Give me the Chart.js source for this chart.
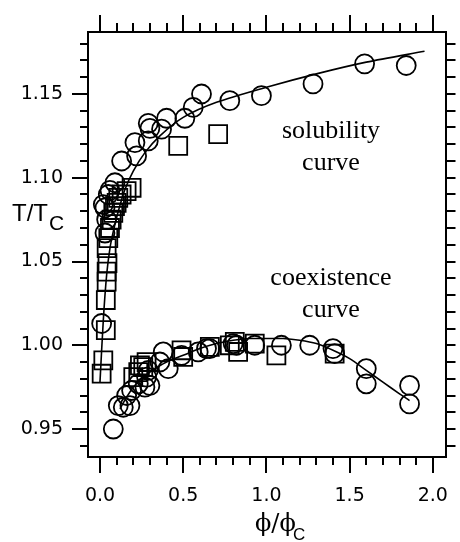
<!DOCTYPE html>
<html>
<head>
<meta charset="utf-8">
<script src="https://cdn.jsdelivr.net/npm/chart.js@4.4.1/dist/chart.umd.min.js"></script>
<style>
  html, body { margin: 0; padding: 0; background: #fff; }
</style>
</head>
<body>
<canvas id="phaseChart" width="460" height="542"></canvas>
<script>
// solubility branch (upper)
const solCircleX = [0.01, 0.03, 0.04, 0.03, 0.02, 0.05, 0.06, 0.09, 0.13, 0.22, 0.21, 0.29, 0.29, 0.30, 0.37, 0.40, 0.51, 0.56, 0.61, 0.78, 0.97, 1.28, 1.59, 1.84];
const solCircleY = [1.013, 1.067, 1.075, 1.082, 1.084, 1.090, 1.0925, 1.097, 1.110, 1.113, 1.121, 1.122, 1.1325, 1.1295, 1.129, 1.1355, 1.1355, 1.142, 1.150, 1.146, 1.149, 1.156, 1.168, 1.167];
const solSquareX = [0.01, 0.02, 0.035, 0.035, 0.04, 0.04, 0.045, 0.04, 0.05, 0.06, 0.07, 0.08, 0.09, 0.10, 0.11, 0.13, 0.16, 0.19, 0.47, 0.71];
const solSquareY = [0.983, 0.991, 1.009, 1.027, 1.038, 1.044, 1.049, 1.058, 1.064, 1.070, 1.075, 1.079, 1.083, 1.085, 1.088, 1.090, 1.092, 1.094, 1.119, 1.126];
const solFitX = [0.00, 0.02, 0.04, 0.06, 0.08, 0.11, 0.15, 0.20, 0.27, 0.36, 0.50, 0.70, 1.00, 1.30, 1.60, 1.95];
const solFitY = [0.978, 1.015, 1.042, 1.058, 1.068, 1.080, 1.093, 1.104, 1.115, 1.125, 1.136, 1.145, 1.154, 1.162, 1.169, 1.1755];

// coexistence branch (lower)
const coexCircleX = [0.08, 0.11, 0.14, 0.18, 0.16, 0.19, 0.23, 0.27, 0.30, 0.28, 0.29, 0.36, 0.38, 0.41, 0.49, 0.59, 0.64, 0.66, 0.80, 0.82, 0.93, 1.09, 1.26, 1.40, 1.41, 1.60, 1.60, 1.86, 1.86];
const coexCircleY = [0.950, 0.964, 0.963, 0.964, 0.970, 0.973, 0.977, 0.975, 0.976, 0.981, 0.985, 0.990, 0.996, 0.986, 0.994, 0.996, 0.998, 0.998, 1.001, 1.000, 1.000, 1.000, 1.000, 0.998, 0.995, 0.986, 0.977, 0.976, 0.965];
const coexSquareX = [0.20, 0.23, 0.24, 0.26, 0.28, 0.49, 0.50, 0.66, 0.78, 0.81, 0.83, 0.93, 1.06, 1.41];
const coexSquareY = [0.981, 0.984, 0.988, 0.987, 0.990, 0.997, 0.993, 0.999, 1.000, 1.002, 0.996, 1.001, 0.994, 0.995];
const coexFitX = [0.12, 0.16, 0.20, 0.25, 0.30, 0.40, 0.50, 0.60, 0.70, 0.80, 0.90, 1.00, 1.10, 1.20, 1.30, 1.40, 1.50, 1.60, 1.70, 1.80, 1.86];
const coexFitY = [0.962, 0.969, 0.975, 0.980, 0.984, 0.990, 0.994, 0.998, 1.001, 1.003, 1.004, 1.004, 1.004, 1.003, 1.001, 0.997, 0.992, 0.985, 0.978, 0.971, 0.967];

// axes
const xTickLabels = [0.0, 0.5, 1.0, 1.5, 2.0];
const yTickLabels = [0.95, 1.00, 1.05, 1.10, 1.15];
const X_MIN = -0.072, X_MAX = 2.076;
const Y_MIN = 0.9333, Y_MAX = 1.187;

const toPoints = (xs, ys) => xs.map((x, i) => ({ x: x, y: ys[i] }));

const tickFont = { family: 'DejaVu Sans', size: 19 };

// fixed axis boxes, no extra label padding
const fixBox = (w, h) => s => {
  if (w !== null) s.width = w;
  if (h !== null) s.height = h;
  s.paddingLeft = s.paddingRight = s.paddingTop = s.paddingBottom = 0;
};

// tick marks: major/minor, outward on all four sides
const tickMarks = {
  id: 'tickMarks',
  afterDraw(chart) {
    const { ctx, chartArea: a, scales: { x, y } } = chart;
    ctx.save();
    ctx.strokeStyle = '#000';
    ctx.lineWidth = 2;
    ctx.beginPath();
    for (let i = 0; i <= 20; i++) {
      const px = Math.round(x.getPixelForValue(i / 10));
      const major = i % 5 === 0;
      ctx.moveTo(px, a.bottom);
      ctx.lineTo(px, a.bottom + (major ? 16 : 8));
      ctx.moveTo(px, a.top);
      ctx.lineTo(px, a.top - (major ? 17 : 9));
    }
    for (let i = 94; i <= 118; i++) {
      const py = Math.round(y.getPixelForValue(i / 100));
      const major = i % 5 === 0;
      ctx.moveTo(a.left, py);
      ctx.lineTo(a.left - (major ? 16 : 8), py);
      ctx.moveTo(a.right, py);
      ctx.lineTo(a.right + 10, py);
    }
    ctx.stroke();
    ctx.restore();
  }
};

// axis titles and curve notes
const notes = [
  { text: 'solubility', x: 1.388, y: 1.1236 },
  { text: 'curve', x: 1.388, y: 1.1045 },
  { text: 'coexistence', x: 1.388, y: 1.0358 },
  { text: 'curve', x: 1.388, y: 1.0167 }
];
const labelText = {
  id: 'labelText',
  afterDraw(chart) {
    const { ctx, scales: { x, y } } = chart;
    ctx.save();
    ctx.fillStyle = '#000';
    ctx.textBaseline = 'alphabetic';
    ctx.textAlign = 'center';
    ctx.font = '26px "Liberation Serif"';
    notes.forEach(n => ctx.fillText(n.text, x.getPixelForValue(n.x), y.getPixelForValue(n.y)));

    ctx.textAlign = 'left';
    // y title T/Tc
    ctx.font = '24px "Liberation Sans"';
    ctx.fillText('T/T', 12, 221);
    ctx.font = '21px "Liberation Sans"';
    ctx.fillText('C', 49, 230);
    // x title phi/phi_c
    ctx.font = '24px "DejaVu Serif"';
    ctx.fillText('\u03D5/\u03D5', 255, 531);
    ctx.font = '17px "Liberation Sans"';
    ctx.fillText('C', 293, 540);
    ctx.restore();
  }
};

const markerStyle = { borderColor: '#000', backgroundColor: 'rgba(0,0,0,0)', pointBorderWidth: 1.8, showLine: false };
const fitStyle = { borderColor: '#000', borderWidth: 1.6, pointRadius: 0, showLine: true, fill: false, tension: 0.3 };

const ctx = document.getElementById('phaseChart').getContext('2d');
new Chart(ctx, {
  type: 'scatter',
  data: {
    datasets: [
      Object.assign({ label: 'solubility fit', data: toPoints(solFitX, solFitY) }, fitStyle),
      Object.assign({ label: 'coexistence fit', data: toPoints(coexFitX, coexFitY) }, fitStyle),
      Object.assign({ label: 'solubility circles', data: toPoints(solCircleX, solCircleY), pointStyle: 'circle', pointRadius: 9.5 }, markerStyle),
      Object.assign({ label: 'solubility squares', data: toPoints(solSquareX, solSquareY), pointStyle: 'rect', pointRadius: 12.7 }, markerStyle),
      Object.assign({ label: 'coexistence circles', data: toPoints(coexCircleX, coexCircleY), pointStyle: 'circle', pointRadius: 9.5 }, markerStyle),
      Object.assign({ label: 'coexistence squares', data: toPoints(coexSquareX, coexSquareY), pointStyle: 'rect', pointRadius: 12.7 }, markerStyle)
    ]
  },
  options: {
    responsive: false,
    animation: false,
    devicePixelRatio: 1,
    layout: { padding: 0 },
    plugins: { legend: { display: false }, tooltip: { enabled: false } },
    scales: {
      x: {
        type: 'linear', position: 'bottom', min: X_MIN, max: X_MAX,
        afterBuildTicks: s => { s.ticks = xTickLabels.map(v => ({ value: v })); },
        ticks: { font: tickFont, color: '#000', padding: 28, maxRotation: 0, autoSkip: false, callback: v => v.toFixed(1) },
        grid: { display: false, drawTicks: false },
        border: { display: true, color: '#000', width: 2 },
        afterFit: fixBox(null, 85)
      },
      x2: {
        type: 'linear', position: 'top', min: X_MIN, max: X_MAX,
        ticks: { display: false },
        grid: { display: false, drawTicks: false },
        border: { display: true, color: '#000', width: 2 },
        afterFit: fixBox(null, 32)
      },
      y: {
        type: 'linear', position: 'left', min: Y_MIN, max: Y_MAX,
        afterBuildTicks: s => { s.ticks = yTickLabels.map(v => ({ value: v })); },
        ticks: { font: tickFont, color: '#000', padding: 25, autoSkip: false, callback: v => v.toFixed(2) },
        grid: { display: false, drawTicks: false },
        border: { display: true, color: '#000', width: 2 },
        afterFit: fixBox(88, null)
      },
      y2: {
        type: 'linear', position: 'right', min: Y_MIN, max: Y_MAX,
        ticks: { display: false },
        grid: { display: false, drawTicks: false },
        border: { display: true, color: '#000', width: 2 },
        afterFit: fixBox(13, null)
      }
    }
  },
  plugins: [tickMarks, labelText]
});
</script>
</body>
</html>
